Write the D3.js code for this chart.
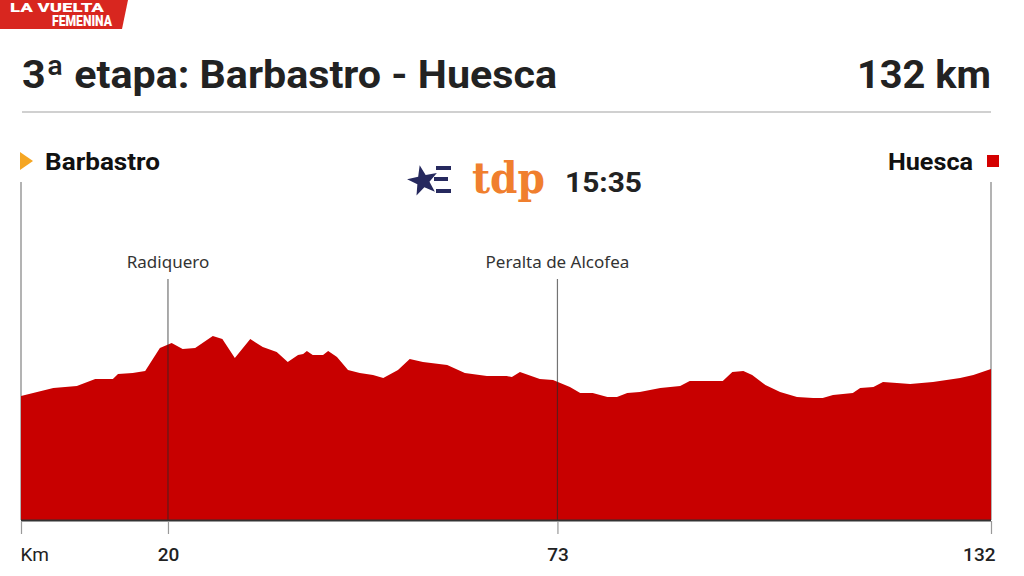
<!DOCTYPE html>
<html>
<head>
<meta charset="utf-8">
<script src="https://cdn.jsdelivr.net/npm/d3@7"></script>
<style>
  html, body { margin: 0; padding: 0; background: #fff; }
  svg { display: block; }
</style>
</head>
<body>
<svg id="chart" width="1024" height="576"></svg>
<script>
// ---------------- DATA ----------------
const stageTitle = "3ª etapa: Barbastro - Huesca";
const stageLength = "132 km";
const startTown = "Barbastro";
const finishTown = "Huesca";
const startTime = "15:35";

// profile: distance (km) and altitude (m)
const profileKm = [0, 4.4, 7.6, 10.1, 12.5, 13.2, 15.2, 16.9, 18.9, 20.5, 22.0, 23.7, 26.1, 27.4, 29.1, 31.2, 32.9, 34.8, 36.3, 37.7, 38.4, 38.9, 39.7, 41.1, 41.8, 43.0, 44.5, 46.1, 47.9, 49.3, 51.3, 52.9, 54.7, 58.0, 60.4, 63.4, 66.1, 66.8, 67.9, 70.6, 72.4, 74.7, 76.1, 77.8, 79.8, 81.1, 82.5, 84.2, 87.0, 89.7, 91.0, 95.5, 96.8, 98.3, 99.5, 101.3, 103.3, 105.6, 107.8, 109.1, 110.5, 113.2, 114.2, 116.0, 117.3, 119.2, 121.0, 124.1, 127.8, 129.6, 132];
const profileAlt = [372, 396, 402, 423, 423, 438, 441, 447, 516, 531, 513, 516, 552, 543, 486, 543, 519, 504, 474, 495, 498, 507, 495, 495, 507, 489, 450, 441, 435, 426, 450, 483, 474, 465, 441, 432, 432, 429, 444, 423, 420, 399, 381, 381, 369, 369, 381, 384, 396, 402, 417, 417, 444, 447, 435, 405, 384, 369, 366, 366, 375, 381, 396, 399, 414, 411, 408, 414, 426, 435, 453];

const waypointNames = ["Radiquero", "Peralta de Alcofea"];
const waypointKm = [20, 73];

const tickKm = [0, 20, 73, 132];
const tickLabels = ["Km", "20", "73", "132"];

// ---------------- CHART ----------------
const svg = d3.select("#chart");
const profile = profileKm.map((k, i) => ({ km: k, alt: profileAlt[i] }));

const x = d3.scaleLinear().domain([0, 132]).range([21, 991]);
const y = d3.scaleLinear().domain([0, 750]).range([520, 270]);

const RED = "#c80000";
const FONT = "Roboto, 'Open Sans', 'DejaVu Sans', sans-serif";
const FONT2 = "'Noto Sans', 'Open Sans', 'DejaVu Sans', sans-serif";

// logo (top-left)
const logo = svg.append("g");
logo.append("path").attr("d", "M0,0 L128,0 L122,29 L0,29 Z").attr("fill", "#d8261f");
logo.append("text").attr("x", 10).attr("y", 12)
  .attr("font-family", FONT).attr("font-weight", 900).attr("font-size", 12)
  .attr("fill", "#fff").attr("textLength", 94).attr("lengthAdjust", "spacingAndGlyphs")
  .text("LA VUELTA");
logo.append("text").attr("x", 52).attr("y", 26)
  .attr("font-family", FONT).attr("font-weight", 900).attr("font-size", 14)
  .attr("fill", "#fff").attr("textLength", 60).attr("lengthAdjust", "spacingAndGlyphs")
  .text("FEMENINA");

// title
svg.append("text").attr("x", 22).attr("y", 88)
  .attr("font-family", FONT).attr("font-weight", 700).attr("font-size", 39)
  .attr("fill", "#222").attr("textLength", 535).attr("lengthAdjust", "spacingAndGlyphs")
  .text(stageTitle);
svg.append("text").attr("x", 991).attr("y", 88).attr("text-anchor", "end")
  .attr("font-family", FONT).attr("font-weight", 700).attr("font-size", 39)
  .attr("fill", "#222").attr("textLength", 134).attr("lengthAdjust", "spacingAndGlyphs")
  .text(stageLength);
svg.append("line").attr("x1", 22).attr("x2", 991).attr("y1", 112).attr("y2", 112)
  .attr("stroke", "#d0d0d0").attr("stroke-width", 2);

// start/finish labels
svg.append("path").attr("d", "M20,152 L33,161 L20,170 Z").attr("fill", "#f5a623");
svg.append("text").attr("x", 45).attr("y", 170)
  .attr("font-family", FONT).attr("font-weight", 700).attr("font-size", 23)
  .attr("fill", "#111").attr("textLength", 115).attr("lengthAdjust", "spacingAndGlyphs")
  .text(startTown);
svg.append("rect").attr("x", 987).attr("y", 155).attr("width", 12).attr("height", 12).attr("fill", "#d40000");
svg.append("text").attr("x", 888).attr("y", 170)
  .attr("font-family", FONT).attr("font-weight", 700).attr("font-size", 23)
  .attr("fill", "#111").attr("textLength", 85).attr("lengthAdjust", "spacingAndGlyphs")
  .text(finishTown);

// tdp logo + time
const tdp = svg.append("g");
function starPath(cx, cy, R, r) {
  const pts = [];
  for (let i = 0; i < 10; i++) {
    const a = -Math.PI / 2 + i * Math.PI / 5;
    const rr = i % 2 === 0 ? R : r;
    pts.push([cx + rr * Math.cos(a), cy + rr * Math.sin(a)]);
  }
  return "M" + pts.map(p => p.join(",")).join("L") + "Z";
}
tdp.append("path").attr("d", starPath(423, 181, 16, 6.5)).attr("fill", "#26295e")
  .attr("transform", "rotate(-12,423,181)");
tdp.append("rect").attr("x", 436).attr("y", 166).attr("width", 15).attr("height", 4).attr("fill", "#26295e");
tdp.append("rect").attr("x", 434).attr("y", 177).attr("width", 14).attr("height", 4).attr("fill", "#26295e");
tdp.append("rect").attr("x", 436).attr("y", 189).attr("width", 15).attr("height", 4).attr("fill", "#26295e");
tdp.append("text").attr("x", 472).attr("y", 193)
  .attr("font-family", "'DejaVu Serif', 'Liberation Serif', serif").attr("font-weight", 700).attr("font-size", 42)
  .attr("fill", "#f07f2e").attr("textLength", 73).attr("lengthAdjust", "spacingAndGlyphs")
  .text("tdp");
tdp.append("text").attr("x", 565).attr("y", 192)
  .attr("font-family", FONT).attr("font-weight", 700).attr("font-size", 27)
  .attr("fill", "#222").attr("textLength", 77).attr("lengthAdjust", "spacingAndGlyphs")
  .text(startTime);

// start/finish vertical guides
svg.append("line").attr("x1", x(0)).attr("x2", x(0)).attr("y1", 182).attr("y2", 520)
  .attr("stroke", "#9a9a9a").attr("stroke-width", 1.5);
svg.append("line").attr("x1", x(132)).attr("x2", x(132)).attr("y1", 182).attr("y2", 520)
  .attr("stroke", "#9a9a9a").attr("stroke-width", 1.5);

// profile area
const area = d3.area().x(d => x(d.km)).y0(y(0)).y1(d => y(d.alt)).curve(d3.curveLinear);
svg.append("path").datum(profile).attr("d", area).attr("fill", RED);

// waypoints
const wp = svg.selectAll("g.wp").data(waypointNames.map((n, i) => ({ name: n, km: waypointKm[i] })))
  .enter().append("g").attr("class", "wp");
wp.append("line").attr("x1", d => x(d.km)).attr("x2", d => x(d.km)).attr("y1", 279).attr("y2", 520)
  .attr("stroke", "rgba(40,40,40,0.65)").attr("stroke-width", 1.2);
wp.append("text").attr("x", d => x(d.km)).attr("y", 268).attr("text-anchor", "middle")
  .attr("font-family", FONT2).attr("font-size", 17).attr("fill", "#333").text(d => d.name);

// baseline
svg.append("line").attr("x1", x(0)).attr("x2", x(132)).attr("y1", 520.5).attr("y2", 520.5)
  .attr("stroke", "#333").attr("stroke-width", 2);

// axis
const axis = d3.axisBottom(x).tickValues(tickKm).tickSize(13).tickPadding(14)
  .tickFormat((d, i) => tickLabels[i]);
const ax = svg.append("g").attr("transform", "translate(0,521)").call(axis);
ax.select(".domain").remove();
ax.selectAll(".tick line").attr("stroke", "#999").attr("stroke-width", 1.2);
ax.selectAll(".tick text").attr("font-family", FONT).attr("font-size", 19)
  .attr("fill", "#222").attr("font-weight", (d, i) => i === 0 ? 400 : 500);
ax.selectAll(".tick text").filter((d, i) => i === 0).attr("text-anchor", "start").attr("x", -1);
ax.selectAll(".tick text").filter((d, i) => i === tickKm.length - 1).attr("text-anchor", "end").attr("x", 4);
</script>
</body>
</html>
